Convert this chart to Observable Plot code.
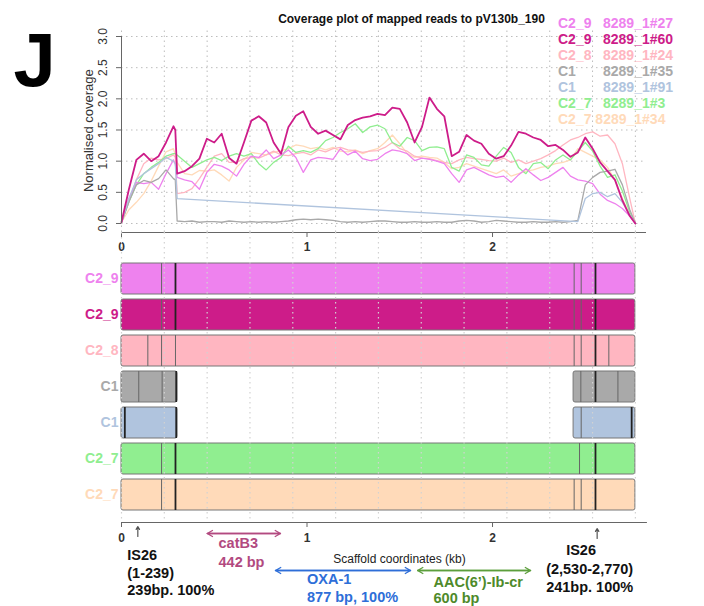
<!DOCTYPE html>
<html>
<head>
<meta charset="utf-8">
<script src="https://cdn.jsdelivr.net/npm/d3@7"></script>
<script src="https://cdn.jsdelivr.net/npm/@observablehq/plot@0.6"></script>
<style>
  html,body{margin:0;padding:0;background:#fff;}
  #chart{position:relative;width:704px;height:606px;overflow:hidden;font-family:"Liberation Sans",Arial,Helvetica,sans-serif;}
  #chart svg{position:absolute;left:0;}
  .lbl{position:absolute;white-space:pre;line-height:1;font-family:"Liberation Sans",Arial,sans-serif;}
</style>
</head>
<body>
<div id="chart"></div>
<script>
// ---------------- DATA ----------------
const samples  = ["8289_1#27","8289_1#60","8289_1#24","8289_1#35","8289_1#91","8289_1#3","8289_1#34"];
const clusters = ["C2_9","C2_9","C2_8","C1","C1","C2_7","C2_7"];
const colors   = ["#EE82EE","#CD1C89","#FFB6C1","#A9A9A9","#B0C4DE","#90EE90","#FFDAB9"];

// scaffold position (kb)
const posKb = [0.00,0.04,0.08,0.12,0.16,0.20,0.24,0.28,0.29,0.30,
  0.34,0.38,0.42,0.46,0.50,0.54,0.58,0.62,0.66,0.70,
  0.74,0.78,0.82,0.86,0.90,0.94,0.98,1.02,1.06,1.10,
  1.14,1.18,1.22,1.26,1.30,1.34,1.38,1.42,1.46,1.50,
  1.54,1.58,1.62,1.66,1.70,1.74,1.78,1.82,1.86,1.90,
  1.94,1.98,2.02,2.06,2.10,2.14,2.18,2.22,2.26,2.30,
  2.34,2.38,2.42,2.46,2.50,2.54,2.58,2.62,2.66,2.70,
  2.74,2.77];

const cov27 = [0.02,0.40,0.66,0.64,0.66,0.55,0.80,1.02,0.95,0.74,
  0.70,0.67,0.55,0.82,0.95,0.92,0.86,0.76,0.95,1.08,
  1.06,1.18,1.04,1.10,1.18,1.06,0.82,1.02,1.06,1.05,
  1.03,1.20,1.10,1.16,1.04,1.01,1.03,1.12,1.18,1.16,
  1.12,1.01,1.05,1.03,1.00,0.96,0.80,0.66,0.86,0.90,
  0.84,0.78,0.74,0.76,0.66,0.78,0.88,0.78,0.69,0.74,
  0.82,0.90,0.76,0.70,0.68,0.64,0.47,0.37,0.32,0.24,
  0.12,0.00];
const cov60 = [0.02,0.55,1.02,1.12,1.00,1.08,1.30,1.56,1.50,0.80,
  0.84,0.92,1.04,1.36,1.30,1.44,1.05,0.96,1.30,1.65,
  1.72,1.62,1.30,1.12,1.55,1.73,1.80,1.55,1.44,1.49,
  1.42,1.35,1.58,1.66,1.70,1.72,1.76,1.74,1.86,1.84,
  1.62,1.30,1.55,2.02,1.84,1.72,1.08,1.15,1.42,1.33,
  1.28,1.12,1.04,1.08,1.25,1.47,1.44,1.38,1.34,1.24,
  1.26,1.18,1.07,1.14,1.38,1.20,0.98,0.84,0.70,0.37,
  0.12,0.00];
const cov24 = [0.02,0.35,0.70,0.96,1.05,1.02,1.04,1.10,1.06,0.48,
  0.50,0.56,0.72,0.90,1.08,1.12,0.98,0.98,1.04,1.06,
  1.05,1.10,1.16,1.10,1.09,1.12,1.14,1.10,1.18,1.15,
  1.20,1.22,1.18,1.17,1.14,1.16,1.17,1.22,1.30,1.20,
  1.16,1.08,1.05,1.04,1.01,0.98,0.96,1.02,1.06,1.04,
  1.03,1.01,1.00,1.05,0.98,1.02,0.96,1.00,1.04,1.10,
  1.17,1.26,1.34,1.38,1.44,1.47,1.40,1.42,1.28,0.96,
  0.40,0.00];
const cov35 = [0.02,0.35,0.62,0.69,0.66,0.72,0.86,0.72,0.70,0.04,
  0.03,0.04,0.02,0.03,0.03,0.02,0.04,0.03,0.02,0.03,
  0.02,0.03,0.02,0.03,0.04,0.06,0.07,0.06,0.07,0.06,
  0.05,0.03,0.02,0.03,0.02,0.03,0.04,0.04,0.03,0.02,
  0.02,0.03,0.02,0.02,0.03,0.02,0.02,0.04,0.05,0.04,
  0.02,0.03,0.05,0.04,0.03,0.02,0.02,0.03,0.02,0.02,
  0.03,0.02,0.03,0.05,0.62,0.74,0.82,0.84,0.87,0.62,
  0.22,0.00];
const cov91 = [0.02,0.40,0.70,0.80,0.88,0.96,1.06,1.00,0.96,0.40,
  null,null,null,null,null,null,null,null,null,null,
  null,null,null,null,null,null,null,null,null,null,
  null,null,null,null,null,null,null,null,null,null,
  null,null,null,null,null,null,null,null,null,null,
  null,null,null,null,null,null,null,null,null,null,
  null,null,null,0.03,0.40,0.48,0.50,0.43,0.48,0.34,
  0.14,0.00];
const cov3 = [0.02,0.35,0.62,0.80,0.90,0.98,1.08,1.12,1.12,1.10,
  1.00,0.90,0.96,1.02,1.06,1.01,1.08,1.12,1.08,1.12,
  0.96,0.86,0.98,1.06,1.24,1.14,1.17,1.14,1.20,1.33,
  1.38,1.46,1.52,1.60,1.46,1.55,1.58,1.52,1.30,1.24,
  1.38,1.33,1.17,1.22,1.23,1.20,0.90,0.84,1.10,1.06,
  0.94,0.92,1.08,1.22,1.14,0.90,0.80,0.96,0.98,0.88,
  1.02,1.10,1.02,1.16,1.30,1.16,0.92,0.74,0.78,0.52,
  0.18,0.00];
const cov34 = [0.02,0.22,0.34,0.48,0.68,0.92,1.15,1.20,1.10,0.98,
  0.80,0.78,0.85,0.84,0.86,0.78,0.68,0.90,1.02,1.14,
  1.12,1.10,1.14,1.17,1.20,1.26,1.24,1.20,1.22,1.18,
  1.22,1.16,1.15,1.18,1.12,1.17,1.20,1.30,1.42,1.28,
  1.12,1.06,1.08,1.06,1.05,0.98,0.88,0.90,0.96,0.92,
  0.88,0.84,0.80,0.86,0.76,0.80,0.84,0.86,0.90,0.92,
  0.96,0.98,1.02,1.20,1.14,1.08,1.02,0.90,0.70,0.40,
  0.14,0.00];
const coverage = [cov27, cov60, cov24, cov35, cov91, cov3, cov34];

// contig blocks (kb) per sample
const segStart = [[0],[0],[0],[0,2.437],[0,2.437],[0],[0]];
const segEnd   = [[2.77],[2.77],[2.77],[0.302,2.77],[0.302,2.77],[2.77],[2.77]];
// internal boundaries (kb)
const thinBounds = [[0.216,2.44,2.478],[0.216,2.44,2.478],[0.142,0.216,0.291,2.44,2.478,2.627],
  [0.093,0.219,2.476,2.676],[2.478],[0.216,2.469],[0.216,2.44,2.478]];
const darkBounds = [[0.291,2.555],[0.291,2.555],[2.555],[0.295,2.555],[0.018,0.295,2.75],[0.291,2.555],[0.291,2.555]];

// genes (kb)
const geneNames  = ["catB3","OXA-1","AAC(6\u2019)-Ib-cr"];
const geneStart  = [0.462, 0.830, 1.596];
const geneEnd    = [0.857, 1.558, 2.205];
const geneInfo   = ["442 bp","877 bp, 100%","600 bp"];
const is26Pos    = [0.088, 2.564];
const is26Range  = ["(1-239)","(2,530-2,770)"];
const is26Info   = ["239bp. 100%","241bp. 100%"];

const yTicks  = [0, 0.5, 1, 1.5, 2, 2.5, 3];
const kbTicks = [0, 1, 2];

// ---------------- LAYOUT / STYLE ----------------
const FONT = '"Liberation Sans", Arial, sans-serif';
const X_DOMAIN = [0, 2.83];
const ML = 121, MR = 58;
const DOTS = "1.5,3.5";
const AXIS_Y0 = -0.1444;
const gridX = d3.range(13).map(i => i * 2.77 / 12);
const drawOrder = [6, 2, 5, 0, 3, 4, 1];
const geneColors = ["#B24A80", "#2E6ED8", "#5C9E3C"];
const geneTextColors = ["#B24A80", "#2E6ED8", "#4E8A2A"];
const geneArrowY = [533, 570, 570];
const geneTextX = [0.523, 1.0, 1.682];
const geneTextY = [[543, 562], [579, 597], [582, 598]];
const is26ArrowY = [[536, 526], [538, 528]];
const is26TextX = [[0.031, 0.031, 0.031], [2.397, 2.289, 2.289]];
const is26TextY = [[555, 573, 590], [550, 569, 587]];
const chart = document.getElementById("chart");
const baseStyle = {background: "transparent", fontFamily: FONT, overflow: "visible"};

function place(svg, top) { svg.style.top = top + "px"; chart.appendChild(svg); }
function label(text, left, centerY, size, color, weight, extra) {
  const d = document.createElement("div");
  d.className = "lbl";
  d.textContent = text;
  d.style.left = left + "px";
  d.style.top = (centerY - 0.488 * size) + "px";
  d.style.fontSize = size + "px";
  d.style.color = color;
  d.style.fontWeight = weight || "normal";
  if (extra) Object.assign(d.style, extra);
  chart.appendChild(d);
}

// ---------------- COVERAGE PLOT ----------------
const lineData = i => posKb.map((x, j) => ({x, y: coverage[i][j]})).filter(d => d.y != null);

const topPlot = Plot.plot({
  width: 704, height: 260,
  marginLeft: ML, marginRight: MR, marginTop: 36, marginBottom: 28,
  style: baseStyle,
  x: {domain: X_DOMAIN, axis: null, label: null},
  y: {domain: [AXIS_Y0, 3], axis: null, label: null},
  marks: [
    Plot.ruleY(yTicks, {x1: 0, x2: 2.83, stroke: "#bdbdbd", strokeDasharray: DOTS}),
    Plot.ruleX(gridX, {y1: AXIS_Y0, y2: 3.12, stroke: "#bdbdbd", strokeDasharray: DOTS}),
    ...drawOrder.map(i => Plot.line(lineData(i), {x: "x", y: "y", stroke: colors[i], strokeWidth: i === 1 ? 1.8 : 1.3})),
    Plot.ruleX([0], {y1: 0, y2: 3, stroke: "#666"}),
    Plot.ruleY([AXIS_Y0], {x1: 0, x2: 2.83, stroke: "#666"}),
    Plot.axisX({ticks: kbTicks, tickSize: 5, fill: "none", stroke: "#666", label: null}),
    Plot.axisY({ticks: yTicks, tickSize: 5, fill: "none", stroke: "#666", label: null}),
    Plot.text(kbTicks, {x: d => d, y: () => AXIS_Y0, dy: 15, text: d => String(d), fontSize: 12, fontWeight: "bold", fill: "#333"}),
    Plot.text(yTicks, {x: () => 0, y: d => d, dx: -18, text: d => d.toFixed(1), rotate: -90, fontSize: 12, fill: "#333"}),
    Plot.text(["Normalised coverage"], {x: () => 0, y: () => 1.49, dx: -33, text: d => d, rotate: -90, fontSize: 13, fill: "#333"})
  ]
});
place(topPlot, 0);

// ---------------- CONTIG BARS ----------------
const rows = samples.map((id, i) => ({id, cluster: clusters[i], color: colors[i]}));
const segs = samples.flatMap((id, i) => segStart[i].map((s, k) => ({id, x1: s, x2: segEnd[i][k], color: colors[i]})));
const thin = samples.flatMap((id, i) => thinBounds[i].map(x => ({id, x})));
const dark = samples.flatMap((id, i) => darkBounds[i].map(x => ({id, x})));

const barPlot = Plot.plot({
  width: 704, height: 300,
  marginLeft: ML, marginRight: MR, marginTop: 22, marginBottom: 29.8,
  style: baseStyle,
  x: {domain: X_DOMAIN, axis: null, label: null},
  y: {domain: samples, paddingInner: 0.144, paddingOuter: 0, axis: null, label: null},
  color: {type: "identity"},
  marks: [
    Plot.text(rows, {x: () => 0, y: "id", text: "cluster", fill: "color", textAnchor: "end", dx: -3, fontSize: 14, fontWeight: "bold"}),
    Plot.barX(segs, {x1: "x1", x2: "x2", y: "id", fill: "color", stroke: "#777", strokeWidth: 1, rx: 2}),
    Plot.tickX(thin, {x: "x", y: "id", stroke: "#666", strokeWidth: 1}),
    Plot.tickX(dark, {x: "x", y: "id", stroke: "#222", strokeWidth: 1.8}),
    Plot.ruleX(gridX, {stroke: "#d2d2d2", strokeDasharray: DOTS, strokeWidth: 1.2, insetTop: -30, insetBottom: -9})
  ]
});
place(barPlot, 240);

// ---------------- BOTTOM AXIS & ANNOTATIONS ----------------
const genes = geneNames.map((name, i) => ({name, start: geneStart[i], end: geneEnd[i], info: geneInfo[i], i}));
const is26 = is26Pos.map((x, i) => ({x, i}));
const geneTexts = genes.flatMap(g => [g.name, g.info].map((t, k) => ({t, x: geneTextX[g.i], y: geneTextY[g.i][k], c: geneTextColors[g.i]})));
const isTexts = is26.flatMap(d => ["IS26", is26Range[d.i], is26Info[d.i]].map((t, k) => ({t, x: is26TextX[d.i][k], y: is26TextY[d.i][k]})));

const annPlot = Plot.plot({
  width: 704, height: 606,
  marginLeft: ML, marginRight: MR, marginTop: 0, marginBottom: 84,
  style: baseStyle,
  x: {domain: X_DOMAIN, axis: null, label: null},
  y: {type: "identity", axis: null},
  marks: [
    Plot.ruleY([522], {x1: 0, x2: 2.835, stroke: "#666"}),
    Plot.axisX({ticks: kbTicks, tickSize: 5, fill: "none", stroke: "#666", label: null}),
    Plot.text(kbTicks, {x: d => d, y: () => 538, text: d => String(d), fontSize: 12, fontWeight: "bold", fill: "#333"}),
    Plot.arrow(is26, {x1: "x", x2: "x", y1: d => is26ArrowY[d.i][0], y2: d => is26ArrowY[d.i][1], stroke: "#555", strokeWidth: 1.2, headLength: 6}),
    Plot.arrow(genes, {x1: "start", x2: "end", y1: d => geneArrowY[d.i], y2: d => geneArrowY[d.i], stroke: d => geneColors[d.i], strokeWidth: 1.3, headLength: 7}),
    Plot.arrow(genes, {x1: "end", x2: "start", y1: d => geneArrowY[d.i], y2: d => geneArrowY[d.i], stroke: d => geneColors[d.i], strokeWidth: 1.3, headLength: 7}),
    Plot.text(geneTexts, {x: "x", y: "y", text: "t", fill: "c", textAnchor: "start", fontSize: 14.5, fontWeight: "bold"}),
    Plot.text(isTexts, {x: "x", y: "y", text: "t", fill: "#111", textAnchor: "start", fontSize: 14.5, fontWeight: "bold"})
  ]
});
place(annPlot, 0);

// ---------------- HTML TEXT (panel letter, title, legend, axis title) ----------------
label("J", 13.5, 59.2, 76, "#000", "bold");
label("Coverage plot of mapped reads to pV130b_190", 411.5, 18.5, 12, "#111", "bold", {transform: "translateX(-50%)"});
label("Scaffold coordinates (kb)", 399.5, 559, 12, "#222", "normal", {transform: "translateX(-50%)"});
samples.forEach((s, i) => {
  const cy = 22.5 + 16 * i;
  if (i === samples.length - 1) {
    label(clusters[i] + " " + s, 558, cy, 14, colors[i], "bold");
  } else {
    label(clusters[i], 558, cy, 14, colors[i], "bold");
    label(s, 603, cy, 14, colors[i], "bold");
  }
});
</script>
</body>
</html>
